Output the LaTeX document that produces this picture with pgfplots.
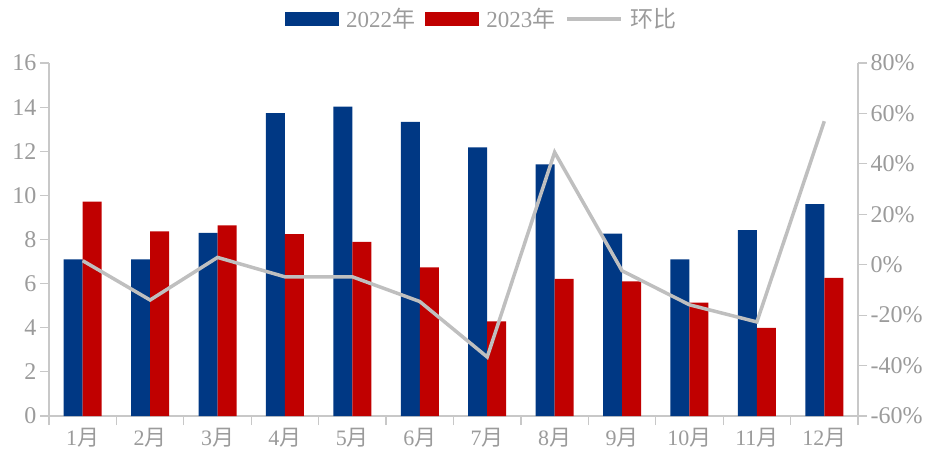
\documentclass[border=0pt]{standalone}
\usepackage{fontspec}
\setmainfont{Liberation Serif}
\newfontfamily\cjk{Noto Sans CJK SC}
\usepackage{pgfplots}
\usepackage{pgfplotstable}
\pgfplotsset{compat=1.18}
\definecolor{cblue}{RGB}{0,56,132}
\definecolor{cred}{RGB}{192,0,0}
\definecolor{cline}{RGB}{191,191,191}
\definecolor{ctext}{RGB}{155,155,155}
\definecolor{caxis}{RGB}{200,200,200}
\newcommand{\yue}{{\cjk 月}}
\pgfplotstableread{
x  y2022  y2023  hb
1  7.10   9.72   1.6
2  7.10   8.37   -14.0
3  8.30   8.64   2.9
4  13.73  8.24   -4.8
5  14.02  7.89   -4.8
6  13.33  6.74   -14.6
7  12.18  4.29   -36.6
8  11.41  6.22   44.6
9  8.27   6.10   -2.4
10 7.10   5.14   -15.9
11 8.43   3.99   -22.7
12 9.60   6.26   56.9
}\datatable
\begin{document}
\begin{tikzpicture}
\pgfplotsset{
  common/.style={
    scale only axis, width=809pt, height=353pt,
    xmin=0.5, xmax=12.5,
    tick align=outside, major tick length=9pt,
    axis line style={-, caxis, line width=1.2pt},
    every tick/.style={caxis, line width=1.2pt},
    tick label style={font=\fontsize{24}{24}\selectfont, text=ctext},
    /pgf/number format/assume math mode=true,
  }
}
\begin{axis}[common, name=ax,
  ymin=0, ymax=16, ytick={0,2,...,16},
  axis x line*=bottom, axis y line*=left,
  xtick={0.5,1.5,...,12.5}, xticklabels={},
  extra x ticks={1,2,...,12},
  extra x tick labels={1\yue,2\yue,3\yue,4\yue,5\yue,6\yue,7\yue,8\yue,9\yue,10\yue,11\yue,12\yue},
  extra x tick style={major tick length=0pt, tick label style={yshift=-9pt, font=\fontsize{22}{22}\selectfont}},
  ybar=0pt, bar width=19pt,
]
\addplot[fill=cblue, draw=none] table[x=x, y=y2022] {\datatable};
\addplot[fill=cred, draw=none] table[x=x, y=y2023] {\datatable};
\end{axis}
\begin{axis}[common,
  ymin=-60, ymax=80, ytick={-60,-40,...,80},
  axis y line*=right, axis x line=none,
  yticklabel={\pgfmathprintnumber{\tick}\%},
  legend columns=-1,
  legend style={at={(axis description cs:0.535,1.125)}, anchor=center,
    draw=none, fill=none, font=\fontsize{23}{23}\selectfont, text=ctext,
    /tikz/every even column/.append style={column sep=8pt},
    /tikz/every odd column/.append style={column sep=6pt}},
]
\addlegendimage{legend image code/.code={\fill[cblue] (0pt,-6.5pt) rectangle (53pt,6.5pt);}}
\addlegendentry{2022{\cjk 年}}
\addlegendimage{legend image code/.code={\fill[cred] (0pt,-6.5pt) rectangle (53pt,6.5pt);}}
\addlegendentry{2023{\cjk 年}}
\addplot[cline, line width=3.5pt, mark=none,
  legend image code/.code={\draw[cline, line width=3.5pt] (0pt,0pt) -- (54pt,0pt);}]
  table[x=x, y=hb] {\datatable};
\addlegendentry{{\cjk 环比}}
\end{axis}
\pgfresetboundingbox
\path ([xshift=-49pt,yshift=-42pt]ax.south west) rectangle ([xshift=83pt,yshift=63pt]ax.north east);
\end{tikzpicture}
\end{document}
